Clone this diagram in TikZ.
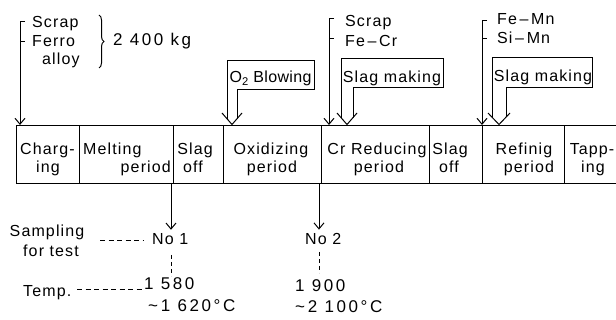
\documentclass[tikz,border=0pt]{standalone}
\usepackage{fontspec}
\setmainfont{Liberation Sans}[LetterSpace=7]
\newfontfamily\tightfont{Liberation Sans}[LetterSpace=2]
\newfontfamily\digitfont{Liberation Sans}[LetterSpace=15]
\usetikzlibrary{arrows.meta,decorations.pathreplacing,calc}
\begin{document}
\begin{tikzpicture}[x=1pt,y=-1pt,
  every node/.style={font=\fontsize{16}{18}\selectfont},
  ln/.style={line width=1pt},
  cell/.style={draw,line width=1pt,minimum height=58pt,inner sep=0pt,anchor=north west},
  txt/.style={inner sep=0pt,anchor=base},
  txtl/.style={inner sep=0pt,anchor=base west},
  txtr/.style={inner sep=0pt,anchor=base east},
  num/.style={inner sep=0pt,anchor=base west,font=\fontsize{17}{19}\selectfont\digitfont},
  arr/.style={line width=1pt,-{Straight Barb[length=6pt,width=10pt]}},
  hdash/.style={line width=1pt,dash pattern=on 5pt off 3.5pt},
  vdash/.style={line width=1pt,dash pattern=on 4pt off 3pt},
  shell/.style={line width=1pt,line join=miter},
]
\useasboundingbox (0,0) rectangle (616,320);

% ---- the bar of periods ----
\node[cell,minimum width=63pt]  (c1) at (16,125)  {};
\node[cell,minimum width=94pt]  (c2) at (79,125)  {};
\node[cell,minimum width=50pt]  (c3) at (173,125) {};
\node[cell,minimum width=98pt]  (c4) at (223,125) {};
\node[cell,minimum width=108pt] (c5) at (321,125) {};
\node[cell,minimum width=53pt]  (c6) at (429,125) {};
\node[cell,minimum width=82pt]  (c7) at (482,125) {};
\node[cell,minimum width=60pt]  (c8) at (564,125) {};

\node[txt]  (t1a) at (47.5,155) {Charg-};
\node[txt]  (t1b) at (48,173)   {ing};
\node[txtl] (t2a) at (83,155)   {Melting};
\node[txtr] (t2b) at (171,173)  {period};
\node[txt]  (t3a) at (195,155)  {Slag};
\node[txt]  (t3b) at (193,173)  {off};
\node[txt]  (t4a) at (271,155)  {Oxidizing};
\node[txt]  (t4b) at (272,173)  {period};
\node[txt]  (t5a) at (377,155)  {Cr Reducing};
\node[txt]  (t5b) at (379,173)  {period};
\node[txt]  (t6a) at (450,155)  {Slag};
\node[txt]  (t6b) at (449,173)  {off};
\node[txt]  (t7a) at (524,155)  {Refinig};
\node[txt]  (t7b) at (529,173)  {period};
\node[txt]  (t8a) at (592,155)  {Tapp-};
\node[txt]  (t8b) at (593,173)  {ing};

% ---- charging materials ----
\coordinate (b1) at (20,22);
\draw[arr] ($(b1)+(5,0)$) -- (b1) -- (b1 |- c1.north);
\draw[ln] (20,42) -- (25,42);
\node[txtl] (s1) at (32,28)   {Scrap};
\node[txtl] (s2) at (32,46.5) {Ferro};
\node[txtl] (s3) at (42,65)   {alloy};
\draw[ln,decorate,decoration={brace,amplitude=5pt}] (99,15) -- (99,68);
\node[num] (kg) at (113,46)  {2 400 kg};

% ---- O2 blowing ----
\node[inner sep=0pt,anchor=base,font=\fontsize{16}{18}\selectfont\tightfont] (o2) at (270.5,83) {O\textsubscript{2} Blowing};
\draw[shell] (227,118.7) -- (227,61) -- (314,61) -- (314,90) -- (237,90) -- (237,118.7);
\draw[shell] (222,113) -- (232,124.5) -- (242,113);

% ---- Cr additions ----
\coordinate (b2) at (329,19);
\draw[arr] ($(b2)+(5,0)$) -- (b2) -- (b2 |- c5.north);
\draw[ln] (329,39) -- (334,39);
\node[txtl] (s4) at (345,27) {Scrap};
\node[txtl] (s5) at (345,47) {Fe\,–\,Cr};

\node[txt] (sm1) at (392,83) {Slag making};
\draw[shell] (341,117.6) -- (341,59) -- (443,59) -- (443,88) -- (353,88) -- (353,117.6);
\draw[shell] (337,113) -- (347,124.5) -- (357,113);

% ---- refining additions ----
\coordinate (b3) at (482,21);
\draw[arr] ($(b3)+(5,0)$) -- (b3) -- (b3 |- c7.north);
\draw[ln] (482,39) -- (487,39);
\node[txtl] (s6) at (497,25) {Fe\,–\,Mn};
\node[txtl] (s7) at (497,44) {Si\,–\,Mn};

\node[txt] (sm2) at (543,82) {Slag making};
\draw[shell] (492,117.2) -- (492,58) -- (592,58) -- (592,88) -- (506,88) -- (506,117.2);
\draw[shell] (488,113) -- (499,124.5) -- (510,113);

% ---- sampling ----
\node[txt]  (samp) at (47,237) {Sampling};
\node[txt]  (fort) at (51,257) {for test};
\node[txtl] (n1) at (152,245) {No 1};
\node[txtl] (n2) at (305,245) {No 2};
\coordinate (a1) at ($(c2.south east)+(-3,0)$);
\coordinate (a2) at ($(c4.south east)+(-3,0)$);
\draw[arr,shorten >=4pt] (a1) -- (a1 |- n1.north);
\draw[arr,shorten >=4pt] (a2) -- (a2 |- n2.north);
\coordinate (d1) at (100,241);
\draw[hdash] (d1) -- ($(d1 -| n1.west)+(-9,0)$);

% ---- temperatures ----
\node[txtl] (tp)  at (23,297)  {Temp.};
\node[num] (t1)  at (144,290) {1 580};
\node[num] (t1b2) at (148,312) {\textasciitilde\,1 620°C};
\node[num] (t2)  at (295,292) {1 900};
\node[num] (t2b2) at (295,313) {\textasciitilde\,2 100°C};
\coordinate (d2) at (77,290);
\draw[hdash] (d2) -- ($(d2 -| t1.west)+(-2,0)$);
\draw[vdash] (171,255) -- (171,276);
\draw[vdash] (319,252) -- (319,273);
\end{tikzpicture}
\end{document}
